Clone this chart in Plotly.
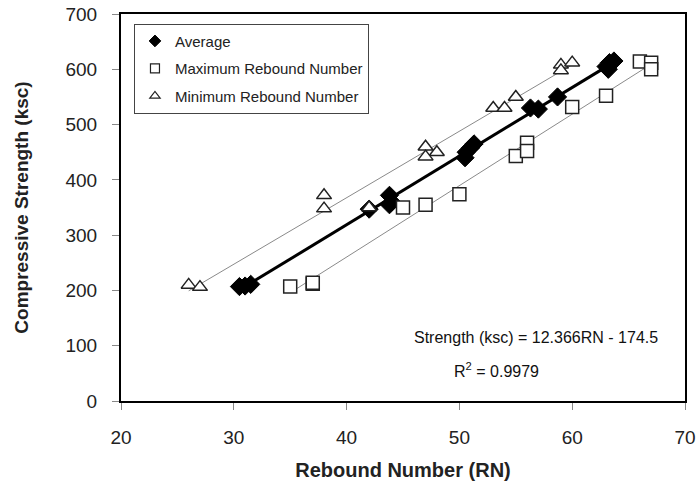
import numpy as np
import plotly.graph_objects as go

# Average
avg_rn = [30.5, 31.0, 31.5, 42.0, 43.8, 44.0, 43.8, 50.5, 50.6, 51.0, 51.3, 56.3, 57.0, 58.7, 63.0, 63.3, 63.7, 63.2]
avg_st = [207, 208, 211, 347, 372, 360, 355, 440, 450, 458, 465, 530, 528, 550, 605, 612, 615, 600]
# Maximum Rebound Number
max_rn = [35, 37, 37, 45, 47, 50, 55, 56, 56, 60, 63, 66, 67, 67]
max_st = [207, 212, 214, 350, 355, 374, 443, 467, 452, 532, 552, 614, 612, 600]
# Minimum Rebound Number
min_rn = [26, 27, 38, 38, 42, 47, 48, 47, 53, 54, 55, 59, 60, 59]
min_st = [210, 206, 372, 348, 350, 460, 450, 442, 530, 530, 550, 608, 612, 598]

x_ticks = [20, 30, 40, 50, 60, 70]
y_ticks = [0, 100, 200, 300, 400, 500, 600, 700]

FONT = "Arial, Liberation Sans, sans-serif"

def fit_line(xs, ys):
    k, b = np.polyfit(xs, ys, 1)
    xx = np.array([min(xs), max(xs)])
    return xx, k * xx + b

fig = go.Figure()

for xs, ys in [(min_rn, min_st), (max_rn, max_st)]:
    lx, ly = fit_line(xs, ys)
    fig.add_trace(go.Scatter(x=lx, y=ly, mode="lines", line=dict(color="#8a8a8a", width=1),
                             showlegend=False, hoverinfo="skip"))
lx, ly = fit_line(avg_rn, avg_st)
fig.add_trace(go.Scatter(x=lx, y=ly, mode="lines", line=dict(color="black", width=3),
                         showlegend=False, hoverinfo="skip"))

diamond = dict(symbol="diamond", color="black", line=dict(color="black", width=1))
square = dict(symbol="square", color="white", line=dict(color="#222222", width=1.5))
triangle = dict(symbol="triangle-up", color="white", line=dict(color="#222222", width=1.5))

fig.add_trace(go.Scatter(x=avg_rn, y=avg_st, mode="markers", showlegend=False,
                         marker=dict(size=14, **diamond)))
fig.add_trace(go.Scatter(x=max_rn, y=max_st, mode="markers", showlegend=False,
                         marker=dict(size=13, **square)))
fig.add_trace(go.Scatter(x=min_rn, y=min_st, mode="markers", showlegend=False,
                         marker=dict(size=13, **triangle)))

# legend entries (small legend symbols as in the reference)
for i, (name, mk) in enumerate([("Average", diamond), ("Maximum Rebound Number", square),
                                ("Minimum Rebound Number", triangle)]):
    m = dict(mk)
    m["size"] = 9
    if mk is not diamond:
        m["line"] = dict(color="#222222", width=1.2)
    fig.add_trace(go.Scatter(x=[None], y=[None], mode="markers", name=name, marker=m,
                             legendgroup="g%d" % i))

fig.add_annotation(x=0.735, y=0.163, xref="paper", yref="paper",
                   text="Strength (ksc) = 12.366RN - 174.5", showarrow=False,
                   font=dict(family=FONT, size=16, color="#111"), xanchor="center", yanchor="middle")
fig.add_annotation(x=0.665, y=0.080, xref="paper", yref="paper",
                   text="R<sup>2</sup> = 0.9979", showarrow=False,
                   font=dict(family=FONT, size=16, color="#111"), xanchor="center", yanchor="middle")

axis_common = dict(showgrid=False, zeroline=False, showline=True, linecolor="black", linewidth=2,
                   mirror=True, ticks="outside", ticklen=7, tickcolor="#888", tickwidth=1,
                   automargin=False, ticklabeloverflow="allow",
                   tickfont=dict(family=FONT, size=19, color="#222"))
fig.update_xaxes(range=[20, 70], tickvals=x_ticks, ticklabelstandoff=11,
                 title=dict(text="<b>Rebound Number (RN)</b>", font=dict(family=FONT, size=20, color="#222"),
                            standoff=16),
                 **axis_common)
fig.update_yaxes(range=[0, 700], tickvals=y_ticks, ticklabelstandoff=11,
                 title=dict(text="<b>Compressive Strength (ksc)</b>", font=dict(family=FONT, size=19, color="#222"),
                            standoff=32),
                 **axis_common)

fig.update_layout(
    width=700, height=491,
    margin=dict(l=121, r=15, t=14, b=90),
    paper_bgcolor="white", plot_bgcolor="white",
    font=dict(family=FONT, color="#222"),
    legend=dict(x=0.023, y=0.975, xanchor="left", yanchor="top",
                bgcolor="white", bordercolor="#444", borderwidth=1,
                font=dict(family=FONT, size=15, color="#222"),
                itemsizing="trace", itemwidth=30, tracegroupgap=5),
)

fig.write_html("out.html", config={"displayModeBar": False},
               post_script="document.body.style.margin='0';")
